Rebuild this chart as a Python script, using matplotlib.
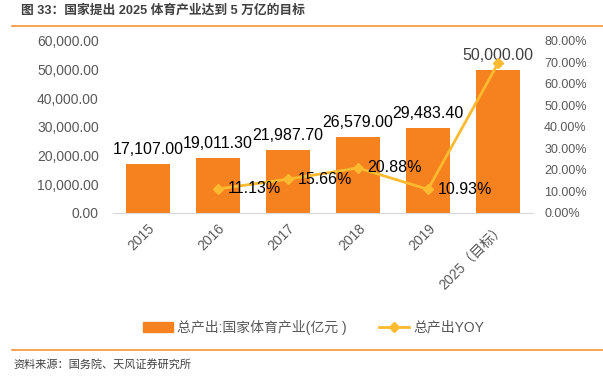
import matplotlib.pyplot as plt
from matplotlib.lines import Line2D
from matplotlib.patches import Patch

plt.rcParams['font.family'] = ['Liberation Sans', 'Noto Sans CJK SC', 'DejaVu Sans']

# Data
years = ["2015", "2016", "2017", "2018", "2019", "2025（目标）"]
output = [17107.00, 19011.30, 21987.70, 26579.00, 29483.40, 50000.00]
yoy_years = ["2016", "2017", "2018", "2019", "2025（目标）"]
yoy = [11.13, 15.66, 20.88, 10.93, 69.59]
yoy_labels = ["11.13%", "15.66%", "20.88%", "10.93%", ""]

BAR_COLOR = "#F5821F"
LINE_COLOR = "#FBBA2F"
TICK_COLOR = "#595959"

fig = plt.figure(figsize=(6.03, 3.76), dpi=100)
ax = fig.add_axes([0.187, 0.434, 0.697, 0.457])
ax2 = ax.twinx()

x = list(range(len(years)))
bars = ax.bar(x, output, width=0.63, color=BAR_COLOR, zorder=2)
for i, v in enumerate(output):
    color = "#404040" if i == len(output) - 1 else "black"
    ax.annotate(f"{v:,.2f}", (i, v), xytext=(0, 5), textcoords="offset points",
                ha="center", va="bottom", fontsize=11.5, color=color)

ax.set_xlim(-0.5, len(years) - 0.5)
ax.set_ylim(0, 60000)
ax.set_yticks(range(0, 60001, 10000))
ax.set_yticklabels([f"{t:,.2f}" for t in range(0, 60001, 10000)])
ax.set_xticks(x)
ax.set_xticklabels(years, rotation=45, ha="right", rotation_mode="anchor")
ax.tick_params(axis="both", length=0, colors=TICK_COLOR, labelsize=10)
ax.tick_params(axis="x", pad=6)
ax.tick_params(axis="y", pad=10)

yx = [years.index(y) for y in yoy_years]
ax2.plot(yx, yoy, color=LINE_COLOR, lw=2, marker="D", markersize=5, zorder=3)
for xi, v, lab in zip(yx, yoy, yoy_labels):
    if lab:
        ax2.annotate(lab, (xi, v), xytext=(7, 0), textcoords="offset points",
                     ha="left", va="center", fontsize=11.5, color="black")
ax2.set_ylim(0, 80)
ax2.set_yticks(range(0, 81, 10))
ax2.set_yticklabels([f"{t:.2f}%" for t in range(0, 81, 10)])
ax2.tick_params(axis="y", length=0, colors=TICK_COLOR, labelsize=9, pad=8)

for a in (ax, ax2):
    for s in ("top", "left", "right", "bottom"):
        a.spines[s].set_visible(False)
ax.spines["bottom"].set_visible(True)
ax.spines["bottom"].set_color("#D9D9D9")

handles = [
    Patch(color=BAR_COLOR, label="总产出:国家体育产业(亿元 )"),
    Line2D([], [], color=LINE_COLOR, lw=2, marker="D", markersize=5, label="总产出YOY"),
]
fig.legend(handles=handles, loc="center", bbox_to_anchor=(0.52, 0.13), ncol=2,
           frameon=False, fontsize=10, handlelength=2.2, handletextpad=0.3,
           columnspacing=2.3, labelcolor=TICK_COLOR)

# title, rules and source
fig.text(0.035, 0.972, "图 33：国家提出 2025 体育产业达到 5 万亿的目标",
         fontsize=9.2, fontweight="bold", color="#404040", va="center")
fig.add_artist(Line2D([0.02, 1.0], [0.93, 0.93], color="#F7922E", lw=1.2))
fig.add_artist(Line2D([0.02, 1.0], [0.069, 0.069], color="#F7922E", lw=1.2))
fig.text(0.022, 0.032, "资料来源：国务院、天风证券研究所", fontsize=8,
         color="#404040", va="center")

fig.savefig("out.png", dpi=100)
